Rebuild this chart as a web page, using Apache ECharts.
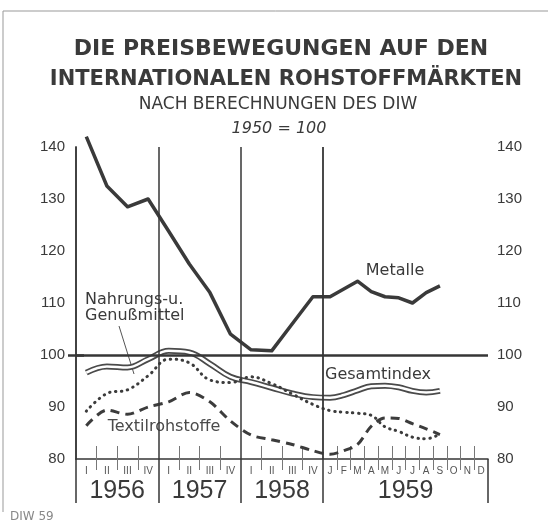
<!DOCTYPE html>
<html>
<head>
<meta charset="utf-8">
<script src="https://cdn.jsdelivr.net/npm/echarts@6/dist/echarts.min.js"></script>
<style>
  html, body { margin: 0; padding: 0; background: #fff; }
  #chart { width: 548px; height: 523px; }
</style>
</head>
<body>
<div id="chart"></div>
<script>
// 1956-1958 quarterly, 1959 monthly (Jan - Sep), 1950 = 100
const quarterLabels = ['I', 'II', 'III', 'IV']
const monthLabels = ['J', 'F', 'M', 'A', 'M', 'J', 'J', 'A', 'S', 'O', 'N', 'D']
const yearLabels = ['1956', '1957', '1958', '1959']

const metalle = [142, 132.5, 128.5, 130, 123.8, 117.5, 112, 104, 101, 100.8, 106, 111.2,
  111.2, 112.7, 114.2, 112.2, 111.2, 111, 110, 112, 113.3]
const gesamtindex = [96.6, 97.8, 97.6, 99.2, 100.8, 100.5, 98.3, 95.8, 94.8, 93.7, 92.6, 91.9,
  91.8, 92.3, 93.2, 94, 94.1, 93.8, 93.1, 92.8, 93.1]
const nahrung = [89.2, 92.6, 93.3, 96, 99.2, 98.5, 95.2, 94.7, 95.8, 94.5, 92.5, 90.5,
  89.3, 89, 88.8, 88.4, 86.2, 85.3, 84.2, 83.9, 84.8]
const textil = [86.4, 89.4, 88.6, 90, 91, 92.8, 91, 87.3, 84.6, 83.7, 82.8, 81.6,
  80.9, 81.6, 82.8, 86.3, 87.9, 87.8, 86.8, 85.8, 84.7]

// axis layout: a quarter is 1.5 units wide, a month of 1959 is 1 unit
const periods = []
const yearBounds = [0]
const yearMids = []
let pos = 0
yearLabels.forEach((y, yi) => {
  const labels = yi < 3 ? quarterLabels : monthLabels
  const w = yi < 3 ? 1.5 : 1
  const start = pos
  labels.forEach(l => {
    periods.push({ label: l, mid: pos + w / 2, end: pos + w })
    pos += w
  })
  yearBounds.push(pos)
  yearMids.push((start + pos) / 2)
})
const minorTicks = periods.map(p => p.end).filter(v => yearBounds.indexOf(v) < 0)
const periodMids = periods.map(p => p.mid)
const labelAt = {}
periods.forEach(p => { labelAt[p.mid.toFixed(2)] = p.label })
const yearAt = {}
yearMids.forEach((m, i) => { yearAt[m.toFixed(2)] = yearLabels[i] })

const pts = vals => vals.map((v, i) => [periods[i].mid, v])

const dark = '#363636'
const sans = 'Liberation Sans'

const chart = echarts.init(document.getElementById('chart'))
chart.setOption({
  animation: false,
  backgroundColor: '#fff',
  grid: { left: 76, right: 60, top: 147, bottom: 64 },
  xAxis: [
    {
      type: 'value', min: 0, max: pos, position: 'bottom',
      axisLine: { show: true, onZero: false, lineStyle: { color: dark, width: 1.5 } },
      axisTick: { show: true, inside: true, length: 13, customValues: minorTicks, lineStyle: { color: '#777', width: 1 } },
      axisLabel: { show: false },
      splitLine: { show: false }
    },
    {
      type: 'value', min: 0, max: pos, position: 'bottom', offset: 0,
      axisLine: { show: false, onZero: false },
      axisTick: { show: true, length: 11, customValues: minorTicks, lineStyle: { color: '#777', width: 1 } },
      axisLabel: {
        show: true, customValues: periodMids, fontSize: 10, color: '#555', margin: 7, fontFamily: sans,
        formatter: v => labelAt[v.toFixed(2)] || ''
      },
      splitLine: { show: false }
    },
    {
      type: 'value', min: 0, max: pos, position: 'bottom', offset: 0,
      axisLine: { show: false, onZero: false },
      axisTick: { show: true, length: 44, customValues: yearBounds, lineStyle: { color: dark, width: 1.5 } },
      axisLabel: {
        show: true, customValues: yearMids, fontSize: 25, color: '#3a3a3a', margin: 20, fontFamily: sans,
        formatter: v => yearAt[v.toFixed(2)] || ''
      },
      splitLine: { show: false }
    }
  ],
  yAxis: [
    {
      type: 'value', min: 80, max: 140, interval: 10, position: 'left',
      axisLine: { show: true, lineStyle: { color: dark, width: 1.5 } },
      axisTick: { show: true, customValues: [100], length: 8, lineStyle: { color: dark, width: 2.5 } },
      axisLabel: { fontSize: 15, color: '#3a3a3a', margin: 11, fontFamily: sans },
      splitLine: { show: true, lineStyle: { color: '#777', width: 1 } }
    },
    {
      type: 'value', min: 80, max: 140, interval: 10, position: 'right',
      axisLine: { show: true, lineStyle: { color: dark, width: 1.5 } },
      axisTick: { show: true, customValues: [100], length: 8, lineStyle: { color: dark, width: 2.5 } },
      axisLabel: { fontSize: 15, color: '#3a3a3a', margin: 9, fontFamily: sans },
      splitLine: { show: false }
    }
  ],
  series: [
    {
      name: 'Textilrohstoffe', type: 'line', data: pts(textil), smooth: 0.3, showSymbol: false,
      lineStyle: { color: '#3c3c3c', width: 3, type: [9, 6] },
      markLine: {
        silent: true, symbol: ['none', 'none'], label: { show: false },
        data: [
          { xAxis: yearBounds[1], lineStyle: { color: dark, width: 1.5, type: 'solid' } },
          { xAxis: yearBounds[2], lineStyle: { color: dark, width: 1.5, type: 'solid' } },
          { xAxis: yearBounds[3], lineStyle: { color: dark, width: 1.8, type: 'solid' } },
          { yAxis: 100, lineStyle: { color: dark, width: 2.5, type: 'solid' } }
        ]
      }
    },
    {
      name: 'Gesamtindex', type: 'line', data: pts(gesamtindex), smooth: 0.4, showSymbol: false,
      lineStyle: { color: '#4a4a4a', width: 6 }
    },
    {
      name: 'Gesamtindex-innen', type: 'line', data: pts(gesamtindex), smooth: 0.4, showSymbol: false,
      lineStyle: { color: '#fff', width: 2.5 }
    },
    {
      name: 'Nahrungs- u. Genußmittel', type: 'line', data: pts(nahrung), smooth: 0.4, showSymbol: false,
      lineStyle: { color: '#3c3c3c', width: 3, type: [0.5, 5.5], cap: 'round' }
    },
    {
      name: 'Metalle', type: 'line', data: pts(metalle), smooth: false, showSymbol: false, clip: false,
      lineStyle: { color: '#3a3a3a', width: 3.5, join: 'round' }
    }
  ],
  graphic: [
    { type: 'line', shape: { x1: 3, y1: 11, x2: 548, y2: 11 }, style: { stroke: '#999', lineWidth: 1 } },
    { type: 'line', shape: { x1: 3, y1: 11, x2: 3, y2: 512 }, style: { stroke: '#999', lineWidth: 1 } },
    { type: 'text', x: 281, y: 49, style: { text: 'DIE PREISBEWEGUNGEN AUF DEN', font: 'bold 22px "DejaVu Sans"', fill: '#3a3a3a', textAlign: 'center', textVerticalAlign: 'middle' } },
    { type: 'text', x: 286, y: 80, style: { text: 'INTERNATIONALEN ROHSTOFFMÄRKTEN', font: 'bold 21px "DejaVu Sans"', fill: '#3a3a3a', textAlign: 'center', textVerticalAlign: 'middle' } },
    { type: 'text', x: 278, y: 105, style: { text: 'NACH BERECHNUNGEN DES DIW', font: '17px "DejaVu Sans"', fill: '#3a3a3a', textAlign: 'center', textVerticalAlign: 'middle' } },
    { type: 'text', x: 279, y: 129, style: { text: '1950 = 100', font: 'italic 16px "DejaVu Sans"', fill: '#3a3a3a', textAlign: 'center', textVerticalAlign: 'middle' } },
    { type: 'text', x: 395, y: 271, style: { text: 'Metalle', font: '16px "DejaVu Sans"', fill: '#3a3a3a', textAlign: 'center', textVerticalAlign: 'middle' } },
    { type: 'text', x: 378, y: 375, style: { text: 'Gesamtindex', font: '16px "DejaVu Sans"', fill: '#3a3a3a', textAlign: 'center', textVerticalAlign: 'middle' } },
    { type: 'text', x: 164, y: 427, style: { text: 'Textilrohstoffe', font: '16px "DejaVu Sans"', fill: '#4a4a4a', textAlign: 'center', textVerticalAlign: 'middle' } },
    { type: 'text', x: 85, y: 300, style: { text: 'Nahrungs-u.', font: '16px "DejaVu Sans"', fill: '#3a3a3a', textAlign: 'left', textVerticalAlign: 'middle' } },
    { type: 'text', x: 85, y: 316, style: { text: 'Genußmittel', font: '16px "DejaVu Sans"', fill: '#3a3a3a', textAlign: 'left', textVerticalAlign: 'middle' } },
    { type: 'line', shape: { x1: 119, y1: 326, x2: 134, y2: 374 }, style: { stroke: '#555', lineWidth: 1 } },
    { type: 'text', x: 10, y: 517, style: { text: 'DIW 59', font: '12px "DejaVu Sans"', fill: '#888', textAlign: 'left', textVerticalAlign: 'middle' } }
  ]
})
</script>
</body>
</html>
